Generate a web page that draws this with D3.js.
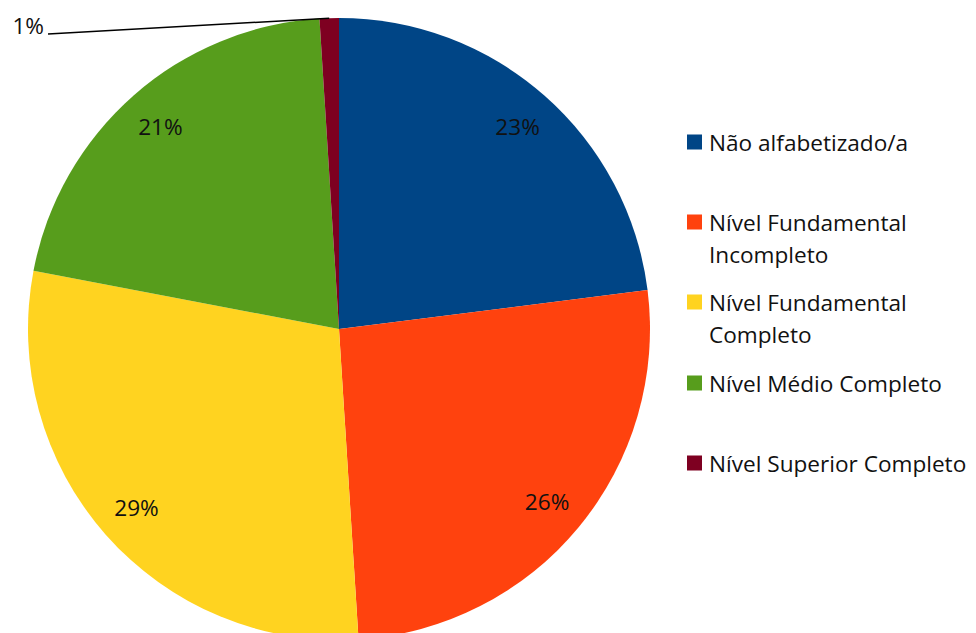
<!DOCTYPE html>
<html>
<head>
<meta charset="utf-8">
<script src="https://cdn.jsdelivr.net/npm/d3@7"></script>
<style>
  html, body { margin: 0; padding: 0; background: #fff; }
  svg { display: block; }
  text { font-family: "Open Sans", Lato, sans-serif; fill: #111; }
</style>
</head>
<body>
<svg id="chart" width="976" height="633"></svg>
<script>
// Escolaridade: share of respondents by education level
const categories = [
  "Não alfabetizado/a",
  "Nível Fundamental Incompleto",
  "Nível Fundamental Completo",
  "Nível Médio Completo",
  "Nível Superior Completo"
];
const values = [23, 26, 29, 21, 1];
const legendLines = [
  ["Não alfabetizado/a"],
  ["Nível Fundamental", "Incompleto"],
  ["Nível Fundamental", "Completo"],
  ["Nível Médio Completo"],
  ["Nível Superior Completo"]
];
const colors = ["#004586", "#ff420e", "#ffd320", "#579d1c", "#7e0021"];

const svg = d3.select("#chart");
const cx = 339, cy = 329, radius = 311;
const fontSize = 22.6;

const color = d3.scaleOrdinal().domain(categories).range(colors);
const data = categories.map((c, i) => ({ name: c, value: values[i] }));

const pie = d3.pie().value(d => d.value).sort(null);
const arcs = pie(data);
const arc = d3.arc().innerRadius(0).outerRadius(radius);
const labelArc = d3.arc().innerRadius(270).outerRadius(270);

const g = svg.append("g").attr("transform", `translate(${cx},${cy})`);

g.selectAll("path.slice")
  .data(arcs)
  .join("path")
  .attr("class", "slice")
  .attr("d", arc)
  .attr("fill", d => color(d.data.name));

// in-slice percentage labels (the tiny last slice gets a leader line instead)
g.selectAll("text.pct")
  .data(arcs.filter(d => d.data.value > 5))
  .join("text")
  .attr("class", "pct")
  .attr("transform", d => `translate(${labelArc.centroid(d)})`)
  .attr("text-anchor", "middle")
  .attr("dominant-baseline", "central")
  .attr("font-size", fontSize)
  .text(d => d.data.value + "%");

// leader line for the smallest slice
const small = arcs[arcs.length - 1];
const mid = (small.startAngle + small.endAngle) / 2;
const edge = [Math.sin(mid) * radius, -Math.cos(mid) * radius];
const labelPos = [48 - cx, 34 - cy];
g.append("line")
  .attr("x1", edge[0]).attr("y1", edge[1])
  .attr("x2", labelPos[0]).attr("y2", labelPos[1])
  .attr("stroke", "#000").attr("stroke-width", 1.5);
g.append("text")
  .attr("x", labelPos[0] - 4).attr("y", labelPos[1] - 9)
  .attr("text-anchor", "end")
  .attr("dominant-baseline", "central")
  .attr("font-size", fontSize)
  .text(small.data.value + "%");

// legend
const legendY = [142, 222, 302, 383, 463];
const legend = svg.append("g").attr("transform", "translate(687,0)");
const items = legend.selectAll("g.item")
  .data(categories)
  .join("g")
  .attr("class", "item")
  .attr("transform", (d, i) => `translate(0,${legendY[i]})`);
items.append("rect")
  .attr("x", 0).attr("y", -7.5)
  .attr("width", 15).attr("height", 15)
  .attr("fill", d => color(d));
items.each(function(d, i) {
  const t = d3.select(this).append("text")
    .attr("x", 22).attr("y", 0)
    .attr("font-size", fontSize)
    .attr("dominant-baseline", "central");
  legendLines[i].forEach((line, j) => {
    t.append("tspan").attr("x", 22).attr("dy", j === 0 ? 0 : 32).text(line);
  });
});
</script>
</body>
</html>
